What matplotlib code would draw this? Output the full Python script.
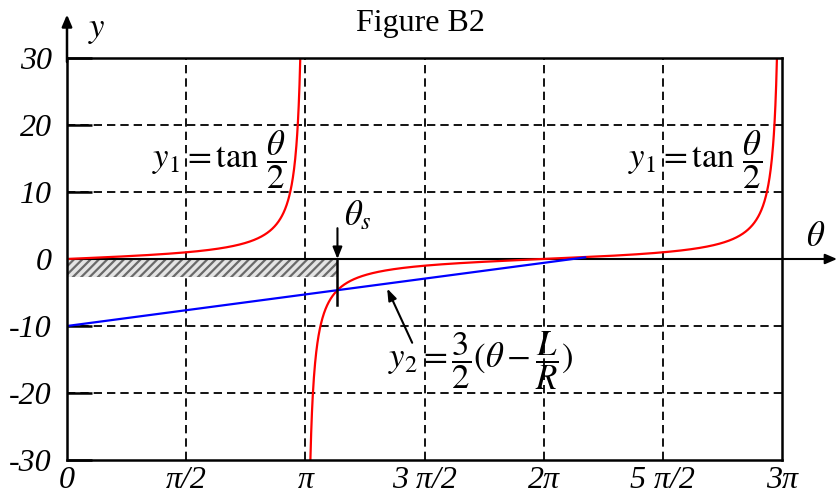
import numpy as np
import matplotlib
matplotlib.use("Agg")
import matplotlib.pyplot as plt
import matplotlib.transforms as mtransforms

plt.rcParams['font.family'] = ['Liberation Serif', 'DejaVu Serif']
plt.rcParams['mathtext.fontset'] = 'stix'
plt.rcParams['lines.scale_dashes'] = False

# Curve parameters
L_OVER_R = 20 / 3          # y2 crosses -10 at theta = 0
SLOPE = 3 / 2
THETA_GAP = 0.0667         # stop tan(theta/2) where it reaches +-30
BLUE_END = 6.83            # blue line drawn up to here
HATCH_DEPTH = -2.7         # shaded strip below the theta axis

x_ticks = [0, np.pi / 2, np.pi, 3 * np.pi / 2, 2 * np.pi, 5 * np.pi / 2, 3 * np.pi]
x_labels = ['0', 'π/2', 'π', '3 π/2', '2π', '5 π/2', '3π']
y_ticks = [-30, -20, -10, 0, 10, 20, 30]
y_labels = ['-30', '-20', '-10', '0', '10', '20', '30']

W, H = 838, 495
fig = plt.figure(figsize=(W / 100, H / 100), dpi=100)
ax = fig.add_axes([67 / W, 1 - 460 / H, (782 - 67) / W, (460 - 58) / H])
ax.set_xlim(0, 3 * np.pi)
ax.set_ylim(-30, 30)

# tan(theta/2), two branches
t1 = np.linspace(0, np.pi - THETA_GAP, 600)
t2 = np.linspace(np.pi + THETA_GAP, 3 * np.pi - THETA_GAP, 1200)
ax.plot(t1, np.tan(t1 / 2), color='red', lw=1.6, zorder=4)
ax.plot(t2, np.tan(t2 / 2), color='red', lw=1.6, zorder=4)

# y2 = 3/2 (theta - L/R)
tb = np.array([0, BLUE_END])
ax.plot(tb, SLOPE * (tb - L_OVER_R), color='blue', lw=1.6, zorder=4)

# intersection theta_s on the second branch
ts = np.linspace(np.pi + 0.01, 2 * np.pi, 200000)
diff = np.tan(ts / 2) - SLOPE * (ts - L_OVER_R)
theta_s = ts[np.argmin(np.abs(diff))]

# hatched strip
plt.rcParams['hatch.linewidth'] = 1.6
ax.fill_between([0, theta_s], HATCH_DEPTH, 0, facecolor='#e4e4e4',
                edgecolor='#6a6a6a', hatch='////', lw=0, zorder=2)

# grid
for xv in x_ticks[1:-1]:
    ax.axvline(xv, color='black', lw=1.3, ls=(0, (6, 3.6)), zorder=1)
for yv in [-20, -10, 10, 20]:
    ax.axhline(yv, color='black', lw=1.3, ls=(0, (6, 3.6)), zorder=1)

ax.axhline(0, color='black', lw=1.5, zorder=3)

for s in ax.spines.values():
    s.set_linewidth(1.8)
    s.set_zorder(5)

ax.set_xticks(x_ticks)
ax.set_xticklabels(x_labels, fontsize=23, fontstyle='italic')
ax.set_yticks(y_ticks)
ax.set_yticklabels(y_labels, fontsize=23, fontstyle='italic')
ax.tick_params(axis='x', length=0, pad=4)
ax.tick_params(axis='y', direction='in', length=18, width=1.8, pad=11)

# axis arrows
trans_x = mtransforms.blended_transform_factory(ax.transAxes, ax.transData)
ax.annotate('', xy=(1.077, 0), xycoords=trans_x, xytext=(1.0, 0), textcoords=trans_x,
            arrowprops=dict(arrowstyle='-|>,head_length=0.7,head_width=0.3',
                            color='black', lw=1.5, shrinkA=0, shrinkB=0),
            annotation_clip=False)
ax.annotate('', xy=(0, 1.108), xycoords='axes fraction', xytext=(0, 0.99),
            textcoords='axes fraction',
            arrowprops=dict(arrowstyle='-|>,head_length=0.7,head_width=0.3',
                            color='black', lw=1.8, shrinkA=0, shrinkB=0),
            annotation_clip=False)

# theta_s marker
ys = SLOPE * (theta_s - L_OVER_R)
ax.plot([theta_s, theta_s], [0, ys - 2.2], color='black', lw=1.8, zorder=5)
ax.annotate('', xy=(theta_s, 0), xytext=(theta_s, 4.6),
            arrowprops=dict(arrowstyle='-|>,head_length=0.7,head_width=0.28',
                            color='black', lw=1.5, shrinkA=0, shrinkB=0))
ax.text(theta_s + 0.08, 3.9, r'$\theta_s$', fontsize=25, ha='left', va='bottom')

# labels
ax.text(1.12, 14.8, r'$y_1 = \tan\,\dfrac{\theta}{2}$', fontsize=25, ha='left', va='center')
ax.text(7.40, 14.8, r'$y_1 = \tan\,\dfrac{\theta}{2}$', fontsize=25, ha='left', va='center')
ax.text(4.23, -15.2, r'$y_2 = \dfrac{3}{2}(\theta - \dfrac{L}{R})$', fontsize=25,
        ha='left', va='center')
ax.annotate('', xy=(4.22, -4.4), xytext=(4.55, -12.5),
            arrowprops=dict(arrowstyle='-|>,head_length=0.7,head_width=0.25',
                            color='black', lw=1.5, shrinkA=0, shrinkB=0))

fig.text(97 / W, 1 - 30 / H, r'$y$', fontsize=25, ha='center', va='center')
fig.text(816 / W, 1 - 238 / H, r'$\theta$', fontsize=25, ha='center', va='center')
fig.text(420 / W, 1 - 24 / H, 'Figure B2', fontsize=23, ha='center', va='center')

fig.savefig('out.png', dpi=100)
